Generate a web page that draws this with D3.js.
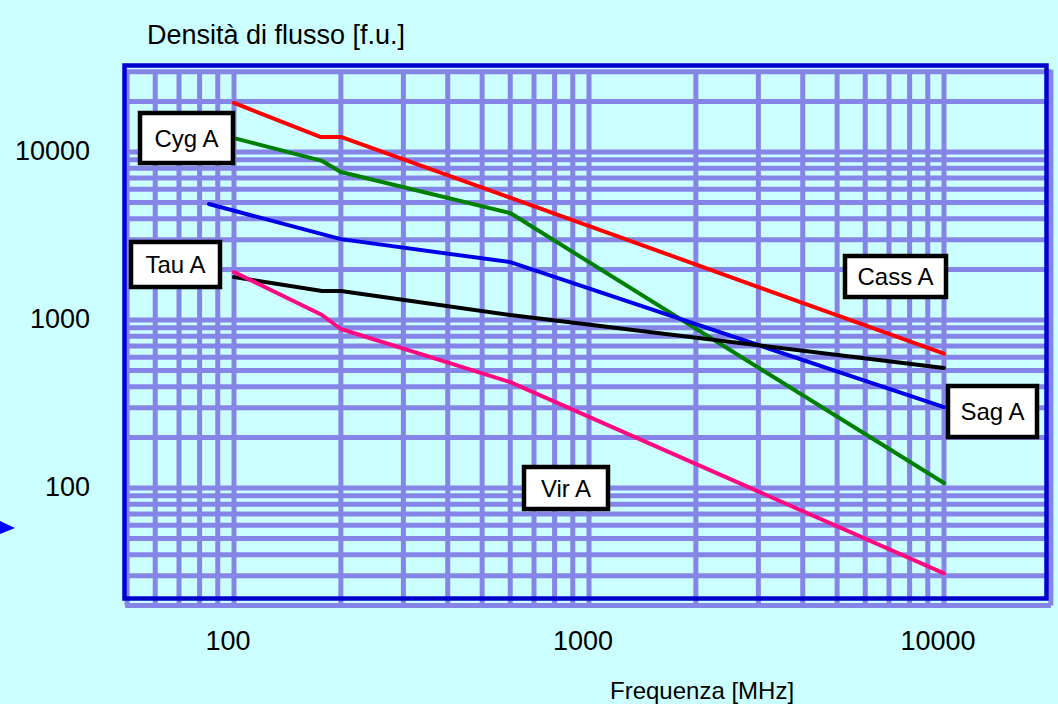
<html>
<head>
<meta charset="utf-8">
<script src="https://cdn.jsdelivr.net/npm/d3@7"></script>
<style>
  body { margin: 0; background: #ccffff; }
  svg text { font-family: "Liberation Sans", Arial, sans-serif; fill: #000; }
</style>
</head>
<body>
<div id="viz"></div>
<script>
// radio sources: frequency [MHz] and flux density [f.u.]
var cassFreq = [100, 175, 200, 10000];
var cassFlux = [19600, 12300, 12300, 630];
var cygFreq  = [100, 177, 200, 600, 10000];
var cygFlux  = [12100, 8850, 7600, 4330, 107];
var sagFreq  = [85, 200, 600, 10000];
var sagFlux  = [4900, 3030, 2210, 303];
var tauFreq  = [100, 177, 200, 600, 10000];
var tauFlux  = [1800, 1490, 1490, 1070, 518];
var virFreq  = [100, 177, 200, 600, 10000];
var virFlux  = [1930, 1070, 884, 427, 31];

var xTicks = [100, 1000, 10000];
var yTicks = [100, 1000, 10000];

var series = [
  {name: "Cass A", freq: cassFreq, flux: cassFlux, color: "#ff0000"},
  {name: "Cyg A",  freq: cygFreq,  flux: cygFlux,  color: "#008000"},
  {name: "Sag A",  freq: sagFreq,  flux: sagFlux,  color: "#0000e6"},
  {name: "Tau A",  freq: tauFreq,  flux: tauFlux,  color: "#000000"},
  {name: "Vir A",  freq: virFreq,  flux: virFlux,  color: "#ff0a82"}
];

// label boxes (outer pixel box)
var boxes = [
  {name: "Cyg A",  x0: 138, y0: 111, x1: 235,  y1: 165},
  {name: "Tau A",  x0: 129, y0: 240, x1: 222,  y1: 289},
  {name: "Cass A", x0: 843, y0: 254, x1: 948,  y1: 299},
  {name: "Sag A",  x0: 946, y0: 384, x1: 1039, y1: 439},
  {name: "Vir A",  x0: 522, y0: 465, x1: 610,  y1: 511}
];

var width = 1058, height = 704;
var svg = d3.select("#viz").append("svg")
    .attr("width", width)
    .attr("height", height);

svg.append("rect").attr("width", width).attr("height", height).attr("fill", "#ccffff");

var x = d3.scaleLog().domain([100, 10000]).range([234, 944]);
var y = d3.scaleLog().domain([100, 10000]).range([488, 152]);

// grid
var gx = d3.scaleLog().domain([50, 20000]).ticks();
var gy = d3.scaleLog().domain([20, 30000]).ticks();
var gTop = y(30000), gBot = y(20), gLeft = x(50), gRight = x(20000);
var grid = svg.append("g");
grid.selectAll(".vx").data(gx).enter().append("line")
    .attr("x1", function(d) { return x(d); }).attr("x2", function(d) { return x(d); })
    .attr("y1", gTop - 2).attr("y2", gBot)
    .attr("stroke", "#8585e8").attr("stroke-width", 5);
grid.selectAll(".hy").data(gy).enter().append("line")
    .attr("y1", function(d) { return y(d); }).attr("y2", function(d) { return y(d); })
    .attr("x1", gLeft - 2).attr("x2", gRight)
    .attr("stroke", "#8585e8").attr("stroke-width", 5);

// frame
svg.append("rect")
    .attr("x", 124.5).attr("y", 65.5)
    .attr("width", 922).attr("height", 533)
    .attr("fill", "none").attr("stroke", "#0000cc").attr("stroke-width", 4.5);

// curves
var line = d3.line()
    .x(function(d) { return x(d[0]); })
    .y(function(d) { return y(d[1]); });
svg.selectAll(".src").data(series).enter().append("path")
    .attr("d", function(s) { return line(d3.zip(s.freq, s.flux)); })
    .attr("fill", "none")
    .attr("stroke", function(s) { return s.color; })
    .attr("stroke-width", 4)
    .attr("stroke-linejoin", "round")
    .attr("stroke-linecap", "round");

// label boxes
var lb = svg.selectAll(".lb").data(boxes).enter().append("g");
lb.append("rect")
    .attr("x", function(b) { return b.x0 + 2; })
    .attr("y", function(b) { return b.y0 + 2; })
    .attr("width", function(b) { return b.x1 - b.x0 - 4; })
    .attr("height", function(b) { return b.y1 - b.y0 - 4; })
    .attr("fill", "#ffffff").attr("stroke", "#000").attr("stroke-width", 4.5);
lb.append("text")
    .attr("x", function(b) { return (b.x0 + b.x1) / 2; })
    .attr("y", function(b) { return (b.y0 + b.y1) / 2; })
    .attr("dy", "0.36em")
    .attr("text-anchor", "middle")
    .attr("font-size", 24)
    .text(function(b) { return b.name; });

// tick labels
svg.selectAll(".xt").data(xTicks).enter().append("text")
    .attr("x", function(d) { return x(d); })
    .attr("dx", -6)
    .attr("y", 650)
    .attr("text-anchor", "middle")
    .attr("font-size", 27)
    .text(function(d) { return d; });
svg.selectAll(".yt").data(yTicks).enter().append("text")
    .attr("x", 90)
    .attr("y", function(d) { return y(d); })
    .attr("dy", "0.3em")
    .attr("text-anchor", "end")
    .attr("font-size", 27)
    .text(function(d) { return d; });

// titles
svg.append("text").attr("x", 147).attr("y", 44).attr("font-size", 27)
    .text("Densità di flusso [f.u.]");
svg.append("text").attr("x", 610).attr("y", 699).attr("font-size", 24)
    .text("Frequenza [MHz]");

// arrow at the left edge
svg.append("path")
    .attr("d", "M0,521 L15,528 L0,534 Z")
    .attr("fill", "#0000ff");
</script>
</body>
</html>
